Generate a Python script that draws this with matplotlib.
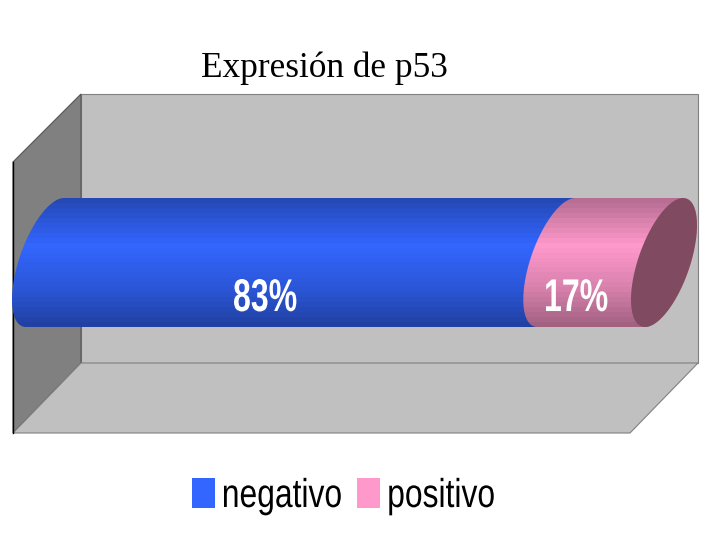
#!/usr/bin/env python3
# -*- coding: utf-8 -*-

import numpy as np
import matplotlib
matplotlib.use('Agg')
import matplotlib.pyplot as plt
from matplotlib.patches import Patch, PathPatch, Polygon
from matplotlib.path import Path
from matplotlib.patheffects import AbstractPathEffect
from matplotlib.transforms import Affine2D

# data
categories = ['negativo', 'positivo']
shares = [82.6, 17.4]
colors = ['#3366ff', '#ff99cc']
title = 'Expresión de p53'

# geometry of the fake 3d box, in pixels
W, H = 703, 533
BACK = (81, 94, 698, 363)
DX, DY = -68, 70
BAR_TOP, BAR_BOTTOM = 198, 327
BAR_X0, BAR_X1 = 45, 664
ELL_A, ELL_K = 27, 19


class Squeeze(AbstractPathEffect):
    # no narrow font here, so squash the glyphs sideways from the text origin
    def __init__(self, sx):
        super().__init__()
        self.sx = sx

    def draw_path(self, renderer, gc, tpath, affine, rgbFace=None):
        m = affine.get_matrix().copy()
        m[0, 0] *= self.sx
        m[0, 1] *= self.sx
        renderer.draw_path(gc, tpath, Affine2D(m), rgbFace)


def to_x(v):
    return BAR_X0 + v / sum(shares) * (BAR_X1 - BAR_X0)


def arc(cx, t0, t1):
    t = np.radians(np.linspace(t0, t1, 80))
    cy = (BAR_TOP + BAR_BOTTOM) / 2
    h = (BAR_BOTTOM - BAR_TOP) / 2
    return np.column_stack([cx + ELL_A * np.cos(t) + ELL_K * np.sin(t), cy - h * np.sin(t)])


def segment(ax, x0, x1, color, z):
    pts = np.vstack([arc(x0, 90, 270), arc(x1, -90, 90)])
    patch = PathPatch(Path(np.vstack([pts, pts[:1]]), closed=True), fc='none', ec='none',
                      transform=ax.transData)
    ax.add_patch(patch)
    # horizontal bands, brightest a bit above the middle
    ys = np.linspace(0, 1, 26)
    shade = np.interp(ys, [0, 0.36, 0.7, 1], [0.72, 1.0, 0.85, 0.64])
    rgb = np.array(matplotlib.colors.to_rgb(color))
    img = ax.imshow(shade[:, None, None] * rgb, extent=[x0 - 60, x1 + 60, BAR_BOTTOM, BAR_TOP],
                    aspect='auto', interpolation='nearest', zorder=z)
    img.set_clip_path(patch)


fig = plt.figure(figsize=(W / 100, H / 100), dpi=100)
ax = fig.add_axes([0, 0, 1, 1])

l, t, r, b = BACK
ax.add_patch(Polygon([(l, t), (r, t), (r, b), (l, b)], fc='#c0c0c0', ec='#808080', lw=0.8, zorder=1))
ax.add_patch(Polygon([(l, t), (l + DX, t + DY - 2), (l + DX, b + DY), (l, b)],
                     fc='#808080', ec='#555555', lw=0.8, zorder=1))
ax.add_patch(Polygon([(l, b), (r, b), (r + DX, b + DY), (l + DX, b + DY)],
                     fc='#c0c0c0', ec='#808080', lw=0.8, zorder=1))
ax.plot([l + DX, l + DX], [t + DY - 2, b + DY], color='black', lw=1, zorder=2)

# bars, later one sits over the earlier one
cum = np.cumsum([0] + shares)
for i, (name, c) in enumerate(zip(categories, colors)):
    segment(ax, to_x(cum[i]), to_x(cum[i + 1]), c, 3 + i)

cap = arc(to_x(cum[-1]), 0, 360)
ax.add_patch(Polygon(cap, fc='#804a60', ec='none', zorder=6))

label_x = [233, 544]
for x, v in zip(label_x, shares):
    ax.text(x, 299, f'{v:.0f}%', color='white', fontsize=33, fontweight='bold',
            family='Liberation Sans', ha='left', va='center', zorder=7,
            path_effects=[Squeeze(0.7)])

ax.text(324, 68, title, family='Liberation Serif', fontsize=25.4, ha='center', va='center', color='black')

handles = [Patch(fc=c, ec='none', label=n) for n, c in zip(categories, colors)]
leg = ax.legend(handles=handles, ncol=2, frameon=False, loc='lower left',
                bbox_to_anchor=(192 / W, 1 - 515 / H), borderpad=0, borderaxespad=0,
                handlelength=0.57, handleheight=0.77, handletextpad=0.17, columnspacing=-0.42,
                prop={'family': 'Liberation Sans', 'size': 29})
for txt in leg.get_texts():
    txt.set_path_effects([Squeeze(0.79)])

ax.set_xlim(0, W)
ax.set_ylim(H, 0)
ax.axis('off')

fig.savefig('out.png', dpi=100)
